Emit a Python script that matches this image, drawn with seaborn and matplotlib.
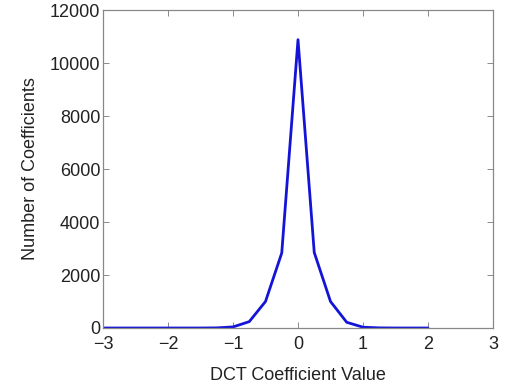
import numpy as np
import pandas as pd
import matplotlib
matplotlib.use("Agg")
import matplotlib.pyplot as plt
import seaborn as sns

# histogram of DCT coefficients, bins every 0.25
coef_value = [-3.0, -2.75, -2.5, -2.25, -2.0, -1.75, -1.5, -1.25, -1.0, -0.75,
              -0.5, -0.25, 0.0, 0.25, 0.5, 0.75, 1.0, 1.25, 1.5, 1.75, 2.0]
coef_count = [0, 0, 0, 0, 0, 0, 0, 5, 40, 240,
              1000, 2830, 10880, 2850, 1000, 215, 30, 5, 0, 0, 0]

x_ticks = [-3, -2, -1, 0, 1, 2, 3]
y_ticks = [0, 2000, 4000, 6000, 8000, 10000, 12000]

df = pd.DataFrame({"value": coef_value, "count": coef_count})

sns.set_theme(style="white")
plt.rcParams["font.family"] = ["Liberation Sans", "DejaVu Sans"]

fig = plt.figure(figsize=(5.09, 3.92), dpi=100)
ax = fig.add_axes([103 / 509, 1 - 328 / 392, 390 / 509, 318 / 392])

sns.lineplot(data=df, x="value", y="count", color="#1414d8", linewidth=2.0, ax=ax)

ax.set_xlim(-3, 3)
ax.set_ylim(0, 12000)
ax.set_xticks(x_ticks)
ax.set_yticks(y_ticks)
ax.set_xticklabels([str(t).replace("-", "\u2212") for t in x_ticks])
ax.set_yticklabels([str(t) for t in y_ticks])

ax.tick_params(direction="in", length=4, width=0.6, color="#777777",
               labelsize=13, labelcolor="#222222", top=True, right=True,
               bottom=True, left=True, pad=2)
ax.tick_params(axis="x", pad=6)
for spine in ax.spines.values():
    spine.set_visible(True)
    spine.set_color("#888888")
    spine.set_linewidth(0.9)

ax.set_xlabel("DCT Coefficient Value", fontsize=13, color="#222222", labelpad=10)
ax.set_ylabel("Number of Coefficients", fontsize=13, color="#222222", labelpad=8)

fig.savefig("out.png", dpi=100, facecolor="white")
